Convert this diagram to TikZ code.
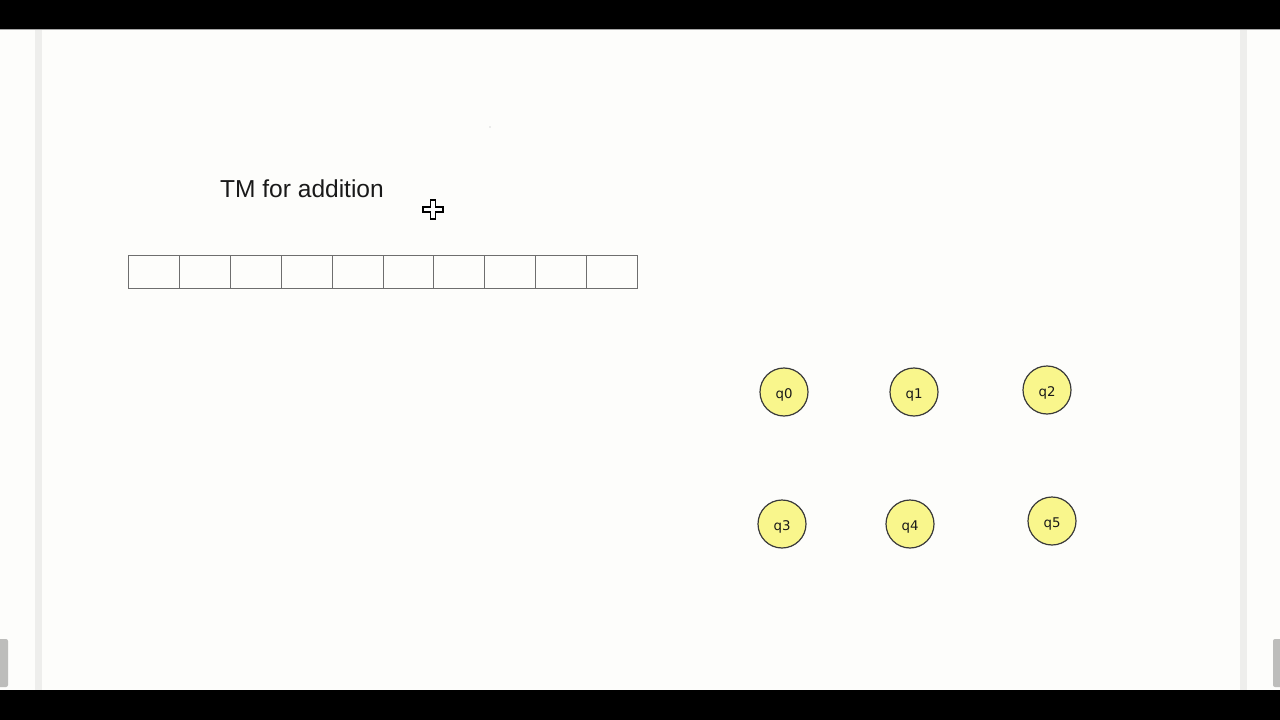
\documentclass[tikz,border=0pt]{standalone}
\usepackage{fontspec}
\setmainfont{Liberation Sans}
\newfontfamily\statefont{DejaVu Sans}
\definecolor{pagebg}{HTML}{FDFDFB}
\definecolor{stripe}{HTML}{EEEEEC}
\definecolor{tabgray}{HTML}{BDBDBB}
\definecolor{statefill}{HTML}{F9F68C}
\definecolor{stateline}{HTML}{3A3A3A}
\definecolor{tapeline}{HTML}{6E6E6E}
\begin{document}
\begin{tikzpicture}[x=0.75pt,y=-0.75pt,
  statenode/.style={circle,draw=stateline,line width=0.9pt,fill=statefill,minimum size=36pt,inner sep=0pt,font=\statefont\fontsize{10}{12}\selectfont},
  statelabel/.style={inner sep=0pt,font=\statefont\fontsize{10}{12}\selectfont,text=black!90},
  tapecell/.style={rectangle,draw=tapeline,line width=0.7pt,minimum width=38.175pt,minimum height=24.75pt,inner sep=0pt,anchor=north west},
  titletext/.style={font=\fontsize{18.4}{22}\selectfont,text=black!90,inner sep=0pt}]
\useasboundingbox (0,0) rectangle (1280,720);
% page and frame
\fill[pagebg] (0,0) rectangle (1280,720);
\fill[black] (0,0) rectangle (1280,29);
\fill[black] (0,690) rectangle (1280,720);
\draw[gray!70,line width=0.6pt] (0,29.5) -- (1280,29.5);
\fill[stripe] (35,30) rectangle (42,690);
\fill[stripe] (1240,30) rectangle (1247,690);
\fill[tabgray,rounded corners=1.5pt] (-3,639) rectangle (8,687);
\fill[tabgray,rounded corners=1.5pt] (1273,639) rectangle (1284,687);
% title
\node[titletext,anchor=center] (title) at (302,189) {TM for addition};
% tiny dot
\fill[gray!60] (490,127) circle (0.6);
% cursor
\draw[black,fill=white,line width=0.9pt]
  (430.5,200) -- (435.5,200) -- (435.5,207) -- (443,207) -- (443,212) -- (435.5,212)
  -- (435.5,219) -- (430.5,219) -- (430.5,212) -- (423,212) -- (423,207) -- (430.5,207) -- cycle;
% tape
\foreach \i in {0,...,9} {
  \node[tapecell] (cell\i) at ({128+\i*50.9},255) {};
}
% states
\foreach \n/\x/\y in {q0/784/392,q1/914/392,q2/1047/390,q3/782/524,q4/910/524,q5/1052/521} {
  \node[statenode] (\n) at (\x,\y) {};
  \node[statelabel] (\n-label) at ([yshift=-2.2pt]\n.center) {\n};
}
\end{tikzpicture}
\end{document}
